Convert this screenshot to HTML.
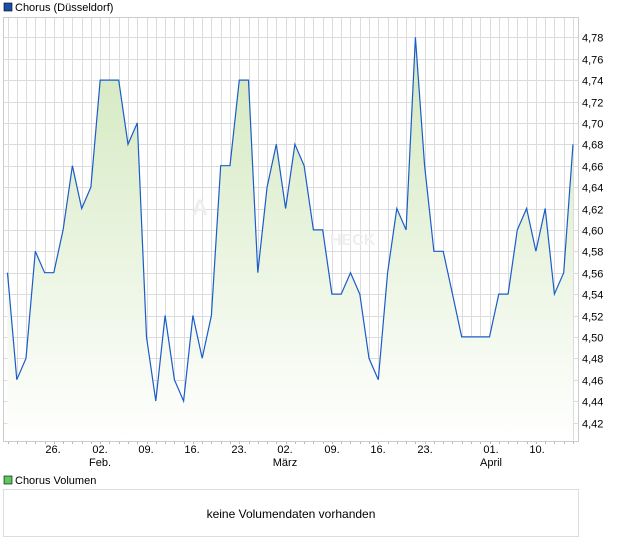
<!DOCTYPE html>
<html><head><meta charset="utf-8"><style>
html,body{margin:0;padding:0;background:#fff;width:620px;height:546px;overflow:hidden}
svg{display:block;font-family:"Liberation Sans",sans-serif}
</style></head><body>
<svg id="s" width="620" height="546" xmlns="http://www.w3.org/2000/svg">
<defs><linearGradient id="g" x1="0" y1="0" x2="0" y2="1">
<stop offset="0" stop-color="#d2e8bd"/><stop offset="1" stop-color="#ffffff"/></linearGradient></defs>
<rect x="4" y="3" width="8" height="8" fill="#1a4fa8" stroke="#000" stroke-width="0.6"/>
<text x="15" y="11" font-size="11" fill="#000">Chorus (Düsseldorf)</text>
<g id="grid"></g>
<path id="area" fill="url(#g)"/>
<path id="line" fill="none" stroke="#1a5cc8" stroke-width="1.2"/>
<text x="192" y="215" font-size="22" fill="#eee" font-weight="bold">A</text>
<text x="330" y="245" font-size="16" fill="#eee" font-weight="bold">HECK</text>
<rect x="3.5" y="17.5" width="575" height="424" fill="none" stroke="#ccc"/>
<g id="lab" font-size="11" fill="#000"></g>
<rect x="4" y="476" width="8" height="8" fill="#5cc85c" stroke="#000" stroke-width="0.6"/>
<text x="15" y="484" font-size="11" fill="#000">Chorus Volumen</text>
<rect x="3.5" y="489.5" width="575" height="47" fill="#fff" stroke="#ddd"/>
<text x="291" y="518" font-size="12" text-anchor="middle" fill="#000">keine Volumendaten vorhanden</text>
</svg>
<script>
var v=[4.56,4.46,4.48,4.58,4.56,4.56,4.60,4.66,4.62,4.64,4.74,4.74,4.74,4.68,4.70,4.50,4.44,4.52,4.46,4.44,4.52,4.48,4.52,4.66,4.66,4.74,4.74,4.56,4.64,4.68,4.62,4.68,4.66,4.60,4.60,4.54,4.54,4.56,4.54,4.48,4.46,4.56,4.62,4.60,4.78,4.66,4.58,4.58,4.54,4.50,4.50,4.50,4.50,4.54,4.54,4.60,4.62,4.58,4.62,4.54,4.56,4.68];
function X(i){return 7.5+9.27*i}
function Y(p){return 37.3+(4.78-p)/0.02*21.4}
var ns="http://www.w3.org/2000/svg",grid=document.getElementById('grid'),lab=document.getElementById('lab');
function el(t,a,p,txt){var e=document.createElementNS(ns,t);for(var k in a)e.setAttribute(k,a[k]);if(txt)e.textContent=txt;p.appendChild(e);return e}
for(var i=0;i<v.length;i++){var x=Math.round(X(i))+0.5;el('line',{x1:x,x2:x,y1:18,y2:441,stroke:'#dcdcdc'},grid);el('line',{x1:x,x2:x,y1:441,y2:444,stroke:'#bbb'},grid)}
for(var k=0;k<=18;k++){var p=4.42+0.02*k,y=Math.round(Y(p))+0.5;el('line',{x1:3,x2:578,y1:y,y2:y,stroke:'#dcdcdc'},grid);el('text',{x:582,y:y+4},lab,p.toFixed(2).replace('.',','))}
var d='',i;for(i=0;i<v.length;i++)d+=(i?'L':'M')+X(i).toFixed(1)+' '+Y(v[i]).toFixed(1);
document.getElementById('line').setAttribute('d',d);
document.getElementById('area').setAttribute('d',d+'L'+X(v.length-1)+' 441L'+X(0)+' 441Z');
var t=[[53,'26.'],[100,'02.','Feb.'],[146,'09.'],[192,'16.'],[239,'23.'],[285,'02.','März'],[332,'09.'],[378,'16.'],[425,'23.'],[491,'01.','April'],[537,'10.']];
t.forEach(function(a){el('text',{x:a[0],y:453,'text-anchor':'middle'},lab,a[1]);if(a[2])el('text',{x:a[0],y:466,'text-anchor':'middle'},lab,a[2])});
</script>
</body></html>
